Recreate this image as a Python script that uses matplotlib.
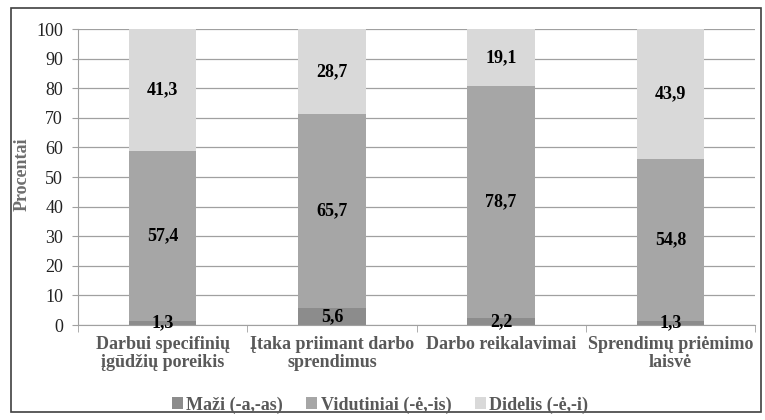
import matplotlib
matplotlib.use("Agg")
import matplotlib.pyplot as plt
from matplotlib.patches import Rectangle
import numpy as np

categories = ["Darbui specifinių\nįgūdžių poreikis",
              "Įtaka priimant darbo\nsprendimus",
              "Darbo reikalavimai",
              "Sprendimų priėmimo\nlaisvė"]
series_names = ["Maži (-a,-as)", "Vidutiniai (-ė,-is)", "Didelis (-ė,-i)"]
mazi = [1.3, 5.6, 2.2, 1.3]
vidutiniai = [57.4, 65.7, 78.7, 54.8]
didelis = [41.3, 28.7, 19.1, 43.9]
yticks = [0, 10, 20, 30, 40, 50, 60, 70, 80, 90, 100]

colors = ["#8c8c8c", "#a6a6a6", "#d9d9d9"]
serif = ["Liberation Serif", "DejaVu Serif"]

fig = plt.figure(figsize=(7.65, 4.2), dpi=100)
ax = fig.add_axes([78 / 765, 1 - 325 / 420, (755 - 78) / 765, (325 - 29) / 420])

# outer chart frame
fig.patches.append(Rectangle((10.5 / 765, 1 - 412 / 420), (761 - 10.5) / 765, (412 - 8) / 420,
                             transform=fig.transFigure, fill=False, edgecolor="#404040",
                             linewidth=1.2))

x = np.arange(len(categories))
width = 0.4
bottom = np.zeros(len(categories))
for vals, col, name in zip([mazi, vidutiniai, didelis], colors, series_names):
    vals = np.array(vals)
    ax.bar(x, vals, width, bottom=bottom, color=col, label=name, zorder=2)
    for xi, b, v in zip(x, bottom, vals):
        ax.text(xi, b + v / 2, f"{v:.1f}".replace(".", ","), ha="center", va="center",
                fontsize=13, fontweight="bold", family=serif, color="black", zorder=3)
    bottom += vals

ax.set_xlim(-0.5, len(categories) - 0.5)
ax.set_ylim(0, 100)
ax.set_yticks(yticks)
ax.set_yticklabels([str(t) for t in yticks], family=serif, fontsize=13, color="#222222")
ax.yaxis.grid(True, color="#a0a0a0", linewidth=0.9, zorder=0)
ax.set_axisbelow(True)

ax.set_xticks(x)
ax.set_xticklabels(categories, family=serif, fontsize=13, fontweight="bold",
                   color="#595959", linespacing=1.05)
ax.tick_params(axis="x", length=0, pad=8)
ax.set_xticks(np.arange(-0.5, len(categories)), minor=True)
ax.tick_params(axis="x", which="minor", length=5, color="#a0a0a0", direction="out")
ax.tick_params(axis="y", length=4.3, color="#a0a0a0", pad=6.5)

for side in ["top", "right"]:
    ax.spines[side].set_visible(False)
ax.spines["left"].set_color("#a0a0a0")
ax.spines["bottom"].set_color("#a0a0a0")

ax.set_ylabel("Procentai", family=serif, fontsize=13, fontweight="bold", color="#6e6e6e")
ax.yaxis.set_label_coords((31 - 78) / 677, 0.51)

leg = fig.legend(loc="center", bbox_to_anchor=(380 / 765, 1 - 405 / 420), ncol=3,
                 frameon=False, handlelength=0.6, handleheight=0.6, handletextpad=0.2,
                 columnspacing=1.3,
                 prop={"family": serif, "size": 13, "weight": "bold"})
for t in leg.get_texts():
    t.set_color("#595959")

fig.savefig("out.png", dpi=100)
